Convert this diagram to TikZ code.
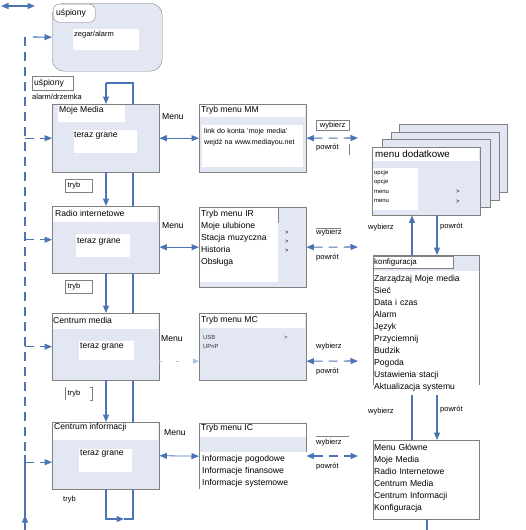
\documentclass[tikz,border=0pt]{standalone}
\usepackage{fontspec}
\setmainfont{Liberation Sans}
\usetikzlibrary{arrows.meta,backgrounds}
\definecolor{edge}{HTML}{808080}
\definecolor{wash}{HTML}{E3E7F3}
\definecolor{flow}{HTML}{4A74B4}
\newcommand\fm{\fontsize{8.6}{12}\selectfont}
\newcommand\fs{\fontsize{7.5}{11.5}\selectfont}
\newcommand\ft{\fontsize{5.9}{9.6}\selectfont}

\begin{document}
\begin{tikzpicture}[x=1pt,y=-1pt,
  card/.style={draw=edge,fill=wash,anchor=north west,inner sep=0pt},
  pane/.style={fill=white,anchor=north west,inner sep=0pt},
  tag/.style={draw=edge,line width=0.4pt,fill=white,anchor=north west,inner sep=0pt},
  modebox/.style={tag,font=\fs,text width=22pt,inner xsep=2.5pt,align=left,minimum height=13pt},
  txt/.style={anchor=west,inner sep=0pt,font=\fm},
  sm/.style={anchor=west,inner sep=0pt,font=\fs},
  lst/.style={anchor=base west,inner sep=0pt,align=left},
  wire/.style={draw=flow,line width=1.1pt},
  thinline/.style={draw=edge,line width=0.4pt},
  ar/.style={wire,-{Triangle[length=7.5pt,width=6pt]}},
  dar/.style={wire,{Triangle[length=7.5pt,width=6pt]}-{Triangle[length=7.5pt,width=6pt]}},
  dsh/.style={dash pattern=on 9pt off 6pt}]
\useasboundingbox (0,0) rectangle (526,530);

\coordinate (colA) at (106,0);
\coordinate (colR) at (133,0);
\coordinate (colW) at (412,0);
\coordinate (colP) at (437,0);
\coordinate (busTop) at (25,37);
\coordinate (busMid) at (25,455);
\coordinate (busEnd) at (25,530);
\coordinate (busTip) at (25,515);
\coordinate (inL) at (1,6);
\coordinate (inR) at (35,6);
\coordinate (sleepIn) at (33,37);
\coordinate (loopTop) at (106,83);
\coordinate (loopBot) at (106,519);
\coordinate (loopTip) at (124,519);

% uspiony
\node[card,rounded corners=12pt,minimum width=110pt,minimum height=68pt] (sleep) at (52,3) {};
\node[tag,rounded corners=6pt,minimum width=42pt,minimum height=18pt] (sleepTab) at (53,4) {};
\node[txt] (sleepName) at (56,13) {uśpiony};
\node[pane,minimum width=66pt,minimum height=21pt] (clock) at (73,29) {};
\node[sm] (clockTxt) at (74,35) {zegar/alarm};
\node[tag,minimum width=41pt,minimum height=14pt] (nap) at (32,76) {};
\node[txt] (napTxt) at (34,83) {uśpiony};
\node[sm] (napSub) at (32,97) {alarm/drzemka};

% tryby
\node[card,minimum width=107pt,minimum height=68pt] (mm) at (52,104) {};
\node[pane,minimum width=67pt,minimum height=17pt] (mmTitle) at (58,104.5) {};
\node[txt] (mmName) at (59,110) {Moje Media};
\node[pane,minimum width=63pt,minimum height=23pt] (mmNow) at (74,130) {};
\node[txt] (mmNowTxt) at (74,136) {teraz grane};
\node[modebox] (mmMode) at (65,179) {tryb};

\node[card,minimum width=107pt,minimum height=67pt] (ir) at (52,206) {};
\node[pane,minimum width=104pt,minimum height=15pt] (irTitle) at (53,207) {};
\node[txt] (irName) at (55,213) {Radio internetowe};
\node[pane,minimum width=54pt,minimum height=23pt] (irNow) at (76,234) {};
\node[txt] (irNowTxt) at (77,241.5) {teraz grane};
\node[modebox] (irMode) at (65,280) {tryb};

\node[card,minimum width=107pt,minimum height=67pt] (cm) at (52,313) {};
\node[pane,minimum width=105pt,minimum height=15pt] (cmTitle) at (53,314) {};
\node[txt] (cmName) at (53,320) {Centrum media};
\node[pane,minimum width=55pt,minimum height=19pt] (cmNow) at (79,341) {};
\node[txt] (cmNowTxt) at (80,346.5) {teraz grane};
\node[modebox,draw=none,fill=none] (cmMode) at (65,387) {tryb};
\draw[thinline] (cmMode.north west) -- (cmMode.south west);
\draw[thinline] ([xshift=-2pt]cmMode.north east) -- (cmMode.north east) -- (cmMode.south east) -- ++(-2,0);

\node[card,minimum width=107pt,minimum height=67pt] (ci) at (52,422) {};
\node[pane,minimum width=105pt,minimum height=17pt] (ciTitle) at (53,423) {};
\node[txt] (ciName) at (54,427.5) {Centrum informacji};
\node[pane,minimum width=53pt,minimum height=23pt] (ciNow) at (79,449) {};
\node[txt] (ciNowTxt) at (80,454) {teraz grane};
\node[sm] (ciMode) at (63,500) {tryb};

% menu trybow
\node[card,minimum width=107pt,minimum height=68pt] (mmMenu) at (199,104) {};
\node[pane,minimum width=105pt,minimum height=12pt] (mmMenuTitle) at (200,105) {};
\node[txt] (mmMenuName) at (201,110) {Tryb menu MM};
\node[pane,minimum width=101pt,minimum height=42pt] (mmLink) at (202,125) {};
\node[lst,font=\fontsize{7.1}{11.5}\selectfont,text width=98pt] (mmLinkTxt) at (204,133) {link do konta 'moje media'\\wejdź na www.mediayou.net};

\node[card,minimum width=107pt,minimum height=80pt] (irMenu) at (199,207) {};
\node[pane,minimum width=78pt,minimum height=74pt] (irList) at (200,208) {};
\draw[thinline] (irList.north east) -- ++(0,15);
\node[lst,font=\fm,text width=78pt] (irListTxt) at (201,216) {Tryb menu IR\\Moje ulubione\\Stacja muzyczna\\Historia\\Obsługa};
\node[lst,font=\fontsize{5.9}{9}\selectfont,text width=8pt] (irMore) at (285,234) {>\\>\\>};

\node[card,minimum width=107pt,minimum height=67pt] (mcMenu) at (199,313) {};
\node[pane,minimum width=105pt,minimum height=14pt] (mcMenuTitle) at (200,314) {};
\node[txt] (mcMenuName) at (201,320) {Tryb menu MC};
\node[lst,font=\ft,text width=30pt,text=black!80] (mcList) at (203,339) {USB\\UPnP};
\node[lst,font=\ft,text width=8pt,text=black!80] (mcMore) at (284,339) {>};

\node[pane,minimum width=107pt,minimum height=66pt] (icMenu) at (199,423) {};
\node[pane,fill=wash,minimum width=107pt,minimum height=15pt] (icBand) at (199,437) {};
\node[pane,minimum width=105pt,minimum height=13pt] (icMenuTitle) at (200,424) {};
\node[txt] (icMenuName) at (201,428.5) {Tryb menu IC};
\draw[draw=edge] (icMenu.south west) -- (icMenu.north west) -- (icMenu.north east) -- (icBand.south east);
\node[lst,font=\fm,text width=104pt] (icList) at (202,461) {Informacje pogodowe\\Informacje finansowe\\Informacje systemowe};

% Menu
\node[txt] (mmKey) at (162,117) {Menu};
\node[txt] (irKey) at (162,226) {Menu};
\node[txt] (mcKey) at (161,339) {Menu};
\node[txt] (icKey) at (164,433) {Menu};
\draw[dar] (mm.east) -- (mmMenu.west);
\draw[dar] (ir.east |- irMenu.west) -- (irMenu.west);
\draw[draw=flow!45,line width=0.8pt,dash pattern=on 3pt off 14pt,-{Triangle[length=6pt,width=5pt]}] ([yshift=-14.5pt]cm.east) -- ([yshift=-14.5pt]mcMenu.west);
\draw[dar,line width=0.8pt] (ci.east) -- (icMenu.west);

% wybierz / powrot
\coordinate (mmOut) at (358,138);
\coordinate (irOut) at (358,247);
\coordinate (mcOut) at (358,361);
\coordinate (icOut) at (358,456);
\draw[dar,dsh] (mmMenu.east) -- (mmOut);
\draw[dar,dsh] (irMenu.east) -- (irOut);
\draw[dar,dsh] ([yshift=-14.5pt]mcMenu.east) -- (mcOut);
\draw[dar,dsh] (icMenu.east |- icOut) -- (icOut);
\node[tag,font=\fs,minimum width=33pt,minimum height=10pt] (mmPick) at (316,120) {wybierz};
\node[sm] (mmBack) at (316,148) {powrót};
\draw[thinline] (mmPick.south east |- mmBack.north) -- ++(0,11);
\node[sm] (irPick) at (316,233) {wybierz};
\draw[thinline] ([yshift=1pt]irPick.north west) -- ++(25,0);
\node[sm] (irBack) at (316,258) {powrót};
\node[sm] (mcPick) at (316,347) {wybierz};
\node[sm] (mcBack) at (316,372) {powrót};
\node[sm] (icPick) at (316,443) {wybierz};
\draw[thinline] ([yshift=3pt]icPick.north west) -- ++(33,0);
\node[sm] (icBack) at (316,467) {powrót};

% menu dodatkowe
\foreach \i/\x/\y in {1/399/124,2/391/132,3/382/139}
  \node[card,minimum width=108pt,minimum height=68pt] (sheet\i) at (\x,\y) {};
\node[card,minimum width=108pt,minimum height=68pt] (extra) at (372,147) {};
\node[pane,minimum width=106pt,minimum height=13pt] (extraTitle) at (373,147.5) {};
\node[anchor=west,inner sep=0pt,font=\fontsize{9.8}{12}\selectfont] (extraName) at (375,153.5) {menu dodatkowe};
\node[pane,minimum width=45pt,minimum height=42pt] (extraList) at (373,168) {};
\node[lst,font=\ft,text width=40pt] (extraTxt) at (374,174) {opcje\\opcje\\menu\\menu};
\node[lst,font=\ft,text width=8pt] (extraMore) at (456,193.5) {>\\>};

% konfiguracja
\node[pane,minimum width=106pt,minimum height=130pt] (konf) at (373,255) {};
\node[pane,fill=wash,minimum width=106pt,minimum height=16pt] (konfBand) at (373,255) {};
\node[tag,minimum width=80pt,minimum height=12pt] (konfTitle) at (373,256) {};
\node[anchor=west,inner sep=0pt,font=\fontsize{7.9}{10}\selectfont] (konfName) at (374,262) {konfiguracja};
\draw[draw=edge] (konf.south west) -- (konf.north west) -- (konf.north east) -- (konf.south east);
\node[lst,font=\fm,text width=104pt] (konfList) at (374,281) {Zarządzaj Moje media\\Sieć\\Data i czas\\Alarm\\Język\\Przyciemnij\\Budzik\\Pogoda\\Ustawienia stacji\\Aktualizacja systemu};

\draw[ar] (konf.north -| colW) -- (extra.south -| colW);
\draw[ar] (extra.south -| colP) -- (konf.north -| colP);
\node[sm] (upPick) at (368,228) {wybierz};
\node[sm] (upBack) at (440,227) {powrót};

% menu glowne
\node[pane,draw=edge,minimum width=106pt,minimum height=79pt] (mainMenu) at (373,440) {};
\node[lst,font=\fm,text width=104pt] (mainList) at (374,450) {Menu Główne\\Moje Media\\Radio Internetowe\\Centrum Media\\Centrum Informacji\\Konfiguracja};
\coordinate (konfFoot) at ([yshift=-10pt]konf.south);
\draw[wire] (konfFoot -| colW) -- (mainMenu.north -| colW);
\draw[ar] (konfFoot -| colP) -- (mainMenu.north -| colP);
\node[sm] (dnPick) at (368,412) {wybierz};
\node[sm] (dnBack) at (440,410) {powrót};
\coordinate (outEnd) at (427,530);
\draw[wire] (mainMenu.south -| outEnd) -- (outEnd);

% lewa szyna
\draw[dar] (inL) -- (inR);
\draw[wire,dsh] (busTop) -- (busMid);
\draw[wire] (busMid) -- (busEnd);
\draw[ar] (busEnd) -- (busTip);
\draw[ar] (sleepIn) -- (sleep.west);
\draw[ar,dsh] (busTop |- mm.west) -- (mm.west);
\draw[ar,dsh] (busTop |- ir.west) -- (ir.west);
\draw[ar,dsh] (busTop |- cm.west) -- (cm.west);
\coordinate (ciIn) at ([yshift=-6.5pt]ci.west);
\draw[ar,dsh] (busTop |- ciIn) -- (ciIn);

% przejscia trybow
\draw[ar] (mm.south -| colA) -- (ir.north -| colA);
\draw[ar] (ir.south -| colA) -- (cm.north -| colA);
\draw[ar] (cm.south -| colA) -- (ci.north -| colA);
\draw[ar] (ci.south -| colA) -- (loopBot) -- (loopTip);
\draw[ar] (loopTop) -- (mm.north -| colA);
\begin{scope}[on background layer]
\draw[wire] (loopTip) -- (loopBot -| colR) -- (loopTop -| colR) -- (loopTop);
\end{scope}
\end{tikzpicture}
\end{document}
